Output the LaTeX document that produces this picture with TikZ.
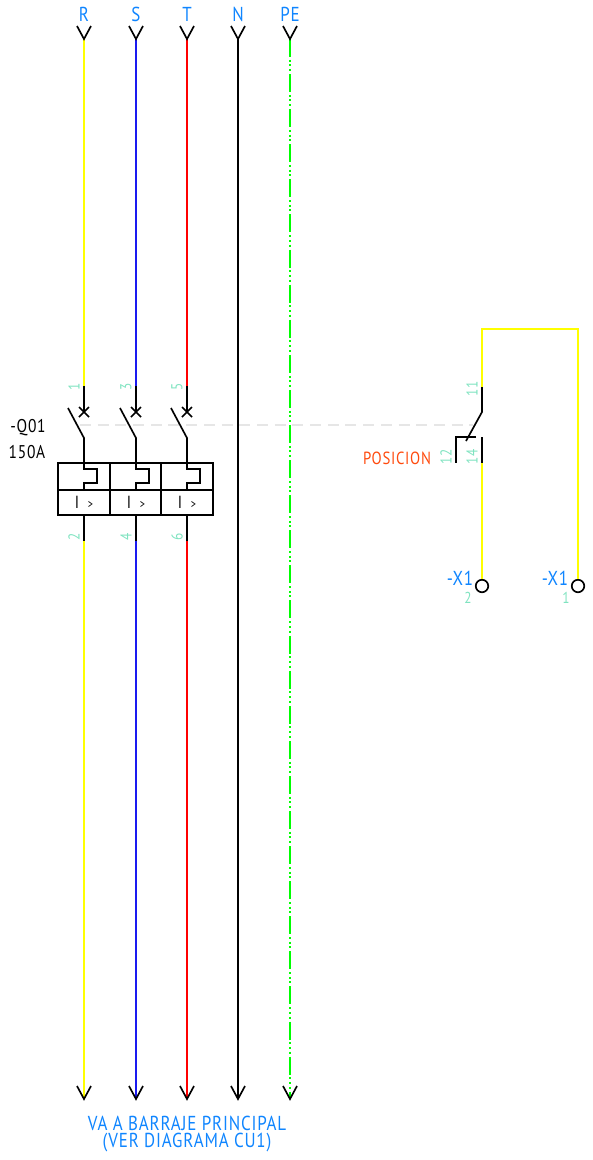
\documentclass[tikz,border=0pt]{standalone}
\usepackage{fontspec}
\setmainfont[LetterSpace=4,FakeStretch=0.84]{PT Sans}
\usetikzlibrary{calc,positioning}
\definecolor{wireyellow}{HTML}{FFFF00}
\definecolor{wireblue}{HTML}{1A1AF0}
\definecolor{wirered}{HTML}{FF0000}
\definecolor{wiregreen}{HTML}{00FF00}
\definecolor{labelblue}{HTML}{0F85FF}
\definecolor{termgreen}{HTML}{7FE3C0}
\definecolor{tagorange}{HTML}{FF4A0D}
\definecolor{linkgray}{HTML}{E6E6E6}
\tikzset{
    wire/.style={line width=0.85pt},
    sym/.style={line width=0.95pt,black},
    pe/.style={wire,wiregreen,dash pattern=on 0.36cm off 0.054cm on 0.04cm off 0.054cm on 0.04cm off 0.054cm on 0.04cm off 0.06cm},
    link/.style={line width=0.8pt,linkgray,dash pattern=on 0.22cm off 0.134cm},
    busname/.style={inner sep=0pt,labelblue,font=\fontsize{11.5}{13}\selectfont},
    devname/.style={inner sep=0pt,font=\fontsize{10.5}{12}\selectfont},
    term/.style={inner sep=0pt,termgreen,font=\fontsize{9}{10}\selectfont},
    termv/.style={term,rotate=90},
    port/.style={circle,draw,line width=0.95pt,minimum size=0.25cm,inner sep=0pt,fill=white}
}

\begin{document}
\begin{tikzpicture}[x=0.02cm,y=-0.02cm]
    \useasboundingbox (0,0) rectangle (592,1160);

    % mechanical link
    \coordinate (linkL) at (80,425);
    \coordinate (linkR) at (473,425);
    \draw [link] (linkL) -- (linkR);

    % neutral and earth
    \coordinate (Ntop) at (238,39);
    \coordinate (Nbot) at (238,1099);
    \draw [sym] (Ntop) -- (Nbot);
    \coordinate (PEtop) at (290,39);
    \coordinate (PEbot) at (290,1099);
    \draw [pe] (PEtop) -- (PEbot);

    % the three poles of the breaker
    \foreach \px/\col/\name/\numin/\numout in {84/wireyellow/R/1/2,136/wireblue/S/3/4,187/wirered/T/5/6} {
        \coordinate (top\name) at (\px,39);
        \coordinate (in\name) at (\px,386);
        \coordinate (out\name) at (\px,541);
        \coordinate (bot\name) at (\px,1099);
        \draw [wire,\col] (top\name) -- (in\name);
        \draw [wire,\col] (out\name) -- (bot\name);
        \draw [sym] (in\name) -- (\px,412);
        \draw [sym] (\px-5,407) -- (\px+5,417);
        \draw [sym] (\px-5,417) -- (\px+5,407);
        \draw [sym] (\px-16,408) -- (\px,438) -- (\px,469) -- (\px+13,469) -- (\px+13,483) -- (\px,483) -- (\px,490);
        \draw [sym] (\px,515) -- (out\name);
        \node [sym,inner sep=0pt,font=\fontsize{10}{10}\selectfont] (trip\name) at (\px,502) {I\,\,\,{\fontsize{7}{8}\selectfont >}};
        \node [termv] (num\numin) at (\px-10,387) {\numin};
        \node [termv] (num\numout) at (\px-10,537) {\numout};
    }

    % breaker body
    \draw [sym] (58,463) rectangle (213,515);
    \draw [sym] (58,490) -- (213,490);
    \draw [sym] (110,463) -- (110,515);
    \draw [sym] (161,463) -- (161,515);

    % top and bottom arrows
    \foreach \px in {84,136,187,238,290} {
        \draw [sym] (\px-7,26) -- (\px,39) -- (\px+7,26);
        \draw [sym] (\px-7,1086) -- (\px,1099) -- (\px+7,1086);
    }

    % bus names
    \node [busname] (busR) at (84,14) {R};
    \node [busname] (busS) at (136,14) {S};
    \node [busname] (busT) at (187,14) {T};
    \node [busname] (busN) at (238,14) {N};
    \node [busname] (busPE) at (290,14) {PE};

    \node [devname] (qname) at (28,428) {-Q01};
    \node [devname] (qrate) at (27,452) {150A};

    % auxiliary contact
    \coordinate (auxT) at (482,329);
    \coordinate (auxC) at (578,329);
    \coordinate (aux11) at (482,387);
    \coordinate (aux14) at (482,463);
    \node [port] (portL) at (482,586) {};
    \node [port] (portR) at (578,586) {};
    \draw [wire,wireyellow] (aux11) -- (auxT) -- (auxC) -- (portR);
    \draw [wire,wireyellow] (aux14) -- (portL);
    \draw [sym] (aux11) -- (482,412) -- (466,441);
    \draw [sym] (476,437) -- (456,437) -- (456,463);
    \draw [sym] (482,437) -- (aux14);

    \node [termv] (num11) at (472,389) {11};
    \node [termv] (num12) at (446,457) {12};
    \node [termv] (num14) at (472,457) {14};
    \node [inner sep=0pt,tagorange,font=\fontsize{10}{12}\selectfont] (tag) at (397,458) {POSICION};

    \node [busname] (x1L) at (460,578) {-X1};
    \node [busname] (x1R) at (555,578) {-X1};
    \node [term] (pin2) at (468,598) {2};
    \node [term] (pin1) at (566,598) {1};

    % destination
    \node [busname,align=center,font=\fontsize{11.5}{10.2}\selectfont] (dest) at (187,1134) {VA A BARRAJE PRINCIPAL\\(VER DIAGRAMA CU1)};
\end{tikzpicture}
\end{document}
